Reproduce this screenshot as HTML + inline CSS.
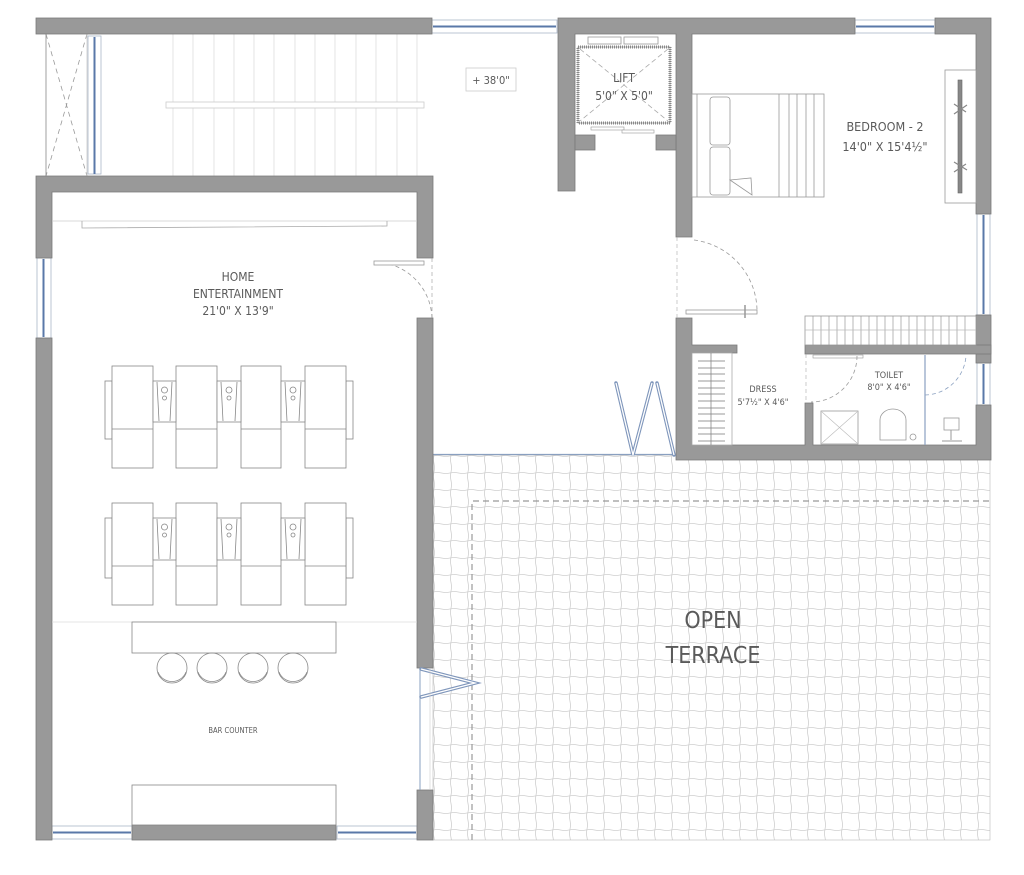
<!DOCTYPE html>
<html><head><meta charset="utf-8"><style>
html,body{margin:0;padding:0;background:#fff;}
svg{display:block;}
text{font-family:"DejaVu Sans Condensed","Liberation Sans",sans-serif;fill:#5a5a5a;}
</style></head><body>
<svg width="1024" height="875" viewBox="0 0 1024 875" xmlns="http://www.w3.org/2000/svg">
<defs>
<pattern id="tile" x="433" y="455" width="17" height="17" patternUnits="userSpaceOnUse">
<path d="M0 1 Q4.25 0 8.5 1 T17 1" fill="none" stroke="#cfcfcf" stroke-width="0.8"/>
<path d="M1 0 Q0 4.25 1 8.5 T1 17" fill="none" stroke="#cfcfcf" stroke-width="0.8"/>
</pattern>
</defs>

<!-- terrace -->
<rect x="433" y="455" width="557" height="385" fill="url(#tile)"/>
<rect x="433" y="455" width="557" height="385" fill="none" stroke="#bbb" stroke-width="0.6"/>
<path d="M472 840 V501 H990" fill="none" stroke="#999" stroke-width="1.2" stroke-dasharray="6,4"/>
<line x1="433" y1="454.5" x2="676" y2="454.5" stroke="#8aa0c0" stroke-width="1.2"/>
<text x="713" y="628" font-size="23" text-anchor="middle">OPEN</text>
<text x="713" y="663" font-size="23" text-anchor="middle">TERRACE</text>

<!-- stair area -->
<g stroke="#ccc" stroke-width="0.8">
<line x1="46" y1="34" x2="46" y2="176" stroke="#888"/>
<path d="M46 34 L87 176 M87 34 L46 176" stroke="#999" stroke-dasharray="5,4"/>
<line x1="87" y1="34" x2="87" y2="176"/>
</g>
<g stroke="#ddd" stroke-width="0.8">
<line x1="173" y1="34" x2="173" y2="176"/><line x1="193" y1="34" x2="193" y2="176"/><line x1="214" y1="34" x2="214" y2="176"/><line x1="234" y1="34" x2="234" y2="176"/><line x1="254" y1="34" x2="254" y2="176"/><line x1="274" y1="34" x2="274" y2="176"/><line x1="295" y1="34" x2="295" y2="176"/><line x1="315" y1="34" x2="315" y2="176"/><line x1="335" y1="34" x2="335" y2="176"/><line x1="356" y1="34" x2="356" y2="176"/><line x1="376" y1="34" x2="376" y2="176"/><line x1="397" y1="34" x2="397" y2="176"/><line x1="417" y1="34" x2="417" y2="176"/>
</g>
<rect x="166" y="102" width="258" height="6" fill="#fff" stroke="#ccc" stroke-width="0.8"/>
<rect x="88" y="36" width="13" height="138" fill="#fff" stroke="#aab6c8" stroke-width="0.8"/>
<line x1="94.5" y1="37" x2="94.5" y2="174" stroke="#5a78a8" stroke-width="2"/>
<rect x="466" y="68" width="50" height="23" fill="#fff" stroke="#ccc" stroke-width="0.8"/>
<text x="491" y="84" font-size="11" text-anchor="middle">+ 38'0"</text>

<!-- windows top -->
<rect x="432" y="20" width="125" height="13" fill="#fff" stroke="#aab6c8" stroke-width="0.8"/>
<line x1="433" y1="26.5" x2="556" y2="26.5" stroke="#5a78a8" stroke-width="2"/>
<rect x="855" y="20" width="80" height="13" fill="#fff" stroke="#aab6c8" stroke-width="0.8"/>
<line x1="856" y1="26.5" x2="934" y2="26.5" stroke="#5a78a8" stroke-width="2"/>
<rect x="977" y="214" width="13" height="101" fill="#fff" stroke="#aab6c8" stroke-width="0.8"/>
<line x1="983.5" y1="215" x2="983.5" y2="314" stroke="#5a78a8" stroke-width="2"/>
<rect x="977" y="363" width="13" height="42" fill="#fff" stroke="#aab6c8" stroke-width="0.8"/>
<line x1="983.5" y1="364" x2="983.5" y2="404" stroke="#5a78a8" stroke-width="2"/>
<rect x="37" y="258" width="14" height="80" fill="#fff" stroke="#aab6c8" stroke-width="0.8"/>
<line x1="43.5" y1="259" x2="43.5" y2="337" stroke="#5a78a8" stroke-width="2"/>
<rect x="52" y="826" width="80" height="13" fill="#fff" stroke="#aab6c8" stroke-width="0.8"/>
<line x1="53" y1="832.5" x2="131" y2="832.5" stroke="#5a78a8" stroke-width="2"/>
<rect x="337" y="826" width="80" height="13" fill="#fff" stroke="#aab6c8" stroke-width="0.8"/>
<line x1="338" y1="832.5" x2="416" y2="832.5" stroke="#5a78a8" stroke-width="2"/>

<!-- walls -->
<g fill="#999" stroke="#7a7a7a" stroke-width="0.8">
<rect x="36" y="18" width="396" height="16"/>
<path d="M36 176 H433 V258 H417 V192 H52 V258 H36 Z"/>
<rect x="36" y="338" width="16" height="502"/>
<rect x="417" y="318" width="16" height="350"/>
<rect x="417" y="790" width="16" height="50"/>
<rect x="132" y="825" width="204" height="15"/>
<path d="M558 18 H855 V34 H692 V237 H676 V34 H575 V191 H558 Z"/>
<rect x="575" y="135" width="20" height="15"/>
<rect x="656" y="135" width="20" height="15"/>
<path d="M935 18 H991 V214 H976 V34 H935 Z"/>
<rect x="976" y="315" width="15" height="48"/>
<path d="M676 318 H692 V345 H737 V353 H692 V445 H805 V403 H813 V445 H976 V405 H991 V460 H676 Z"/>
<rect x="805" y="345" width="186" height="9"/>
</g>

<!-- home entertainment interior -->
<line x1="52" y1="221" x2="417" y2="221" stroke="#ccc" stroke-width="0.8"/>
<path d="M82 221 V228 L387 226 V221" fill="none" stroke="#aaa" stroke-width="0.8"/>
<path d="M432 318 A58 58 0 0 0 374 262" fill="none" stroke="#999" stroke-width="0.8" stroke-dasharray="4,3"/>
<rect x="374" y="261" width="50" height="4" fill="#fff" stroke="#999" stroke-width="0.8"/>
<line x1="432" y1="258" x2="432" y2="318" stroke="#999" stroke-width="0.6" stroke-dasharray="4,3"/>
<text x="238" y="281" font-size="12" text-anchor="middle">HOME</text>
<text x="238" y="298" font-size="12" text-anchor="middle">ENTERTAINMENT</text>
<text x="238" y="315" font-size="12" text-anchor="middle">21'0" X 13'9"</text>

<g fill="#fff" stroke="#888" stroke-width="0.8">
<rect x="105" y="381" width="7" height="58"/><rect x="346" y="381" width="7" height="58"/>
<rect x="112" y="366" width="41" height="102"/><rect x="176" y="366" width="41" height="102"/><rect x="241" y="366" width="40" height="102"/><rect x="305" y="366" width="41" height="102"/>
<rect x="153" y="381" width="23" height="41"/><rect x="217" y="381" width="24" height="41"/><rect x="281" y="381" width="24" height="41"/>
<rect x="105" y="518" width="7" height="60"/><rect x="346" y="518" width="7" height="60"/>
<rect x="112" y="503" width="41" height="102"/><rect x="176" y="503" width="41" height="102"/><rect x="241" y="503" width="40" height="102"/><rect x="305" y="503" width="41" height="102"/>
<rect x="153" y="518" width="23" height="42"/><rect x="217" y="518" width="24" height="42"/><rect x="281" y="518" width="24" height="42"/>
</g>
<g fill="none" stroke="#888" stroke-width="0.8">
<line x1="112" y1="429" x2="153" y2="429"/><line x1="176" y1="429" x2="217" y2="429"/><line x1="241" y1="429" x2="281" y2="429"/><line x1="305" y1="429" x2="346" y2="429"/>
<line x1="112" y1="566" x2="153" y2="566"/><line x1="176" y1="566" x2="217" y2="566"/><line x1="241" y1="566" x2="281" y2="566"/><line x1="305" y1="566" x2="346" y2="566"/>
<circle cx="164.5" cy="390" r="3"/><circle cx="164.5" cy="398" r="2"/><circle cx="229" cy="390" r="3"/><circle cx="229" cy="398" r="2"/><circle cx="293" cy="390" r="3"/><circle cx="293" cy="398" r="2"/>
<circle cx="164.5" cy="527" r="3"/><circle cx="164.5" cy="535" r="2"/><circle cx="229" cy="527" r="3"/><circle cx="229" cy="535" r="2"/><circle cx="293" cy="527" r="3"/><circle cx="293" cy="535" r="2"/>
<path d="M157 382 L159 421 M172 382 L170 421 M221 382 L223 421 M237 382 L235 421 M285 382 L287 421 M301 382 L299 421"/>
<path d="M157 519 L159 559 M172 519 L170 559 M221 519 L223 559 M237 519 L235 559 M285 519 L287 559 M301 519 L299 559"/>
</g>
<line x1="52" y1="622" x2="417" y2="622" stroke="#ddd" stroke-width="0.8"/>
<rect x="132" y="622" width="204" height="31" fill="#fff" stroke="#888" stroke-width="0.8"/>
<g fill="none" stroke="#888" stroke-width="0.8">
<circle cx="172" cy="668" r="15"/><circle cx="212" cy="668" r="15"/><circle cx="253" cy="668" r="15"/><circle cx="293" cy="668" r="15"/>
<path d="M158 672 A15 15 0 0 0 186 672 M198 672 A15 15 0 0 0 226 672 M239 672 A15 15 0 0 0 267 672 M279 672 A15 15 0 0 0 307 672"/>
</g>
<text x="233" y="733" font-size="7.5" text-anchor="middle">BAR COUNTER</text>
<rect x="132" y="785" width="204" height="40" fill="#fff" stroke="#888" stroke-width="0.8"/>

<!-- folding doors -->
<g fill="none" stroke="#7f96bb" stroke-width="3.5" stroke-linecap="round">
<path d="M421 669 L475 683 L421 697"/>
<path d="M616 383 L633 455 L652 383 M657 383 L674 455"/>
</g>
<g fill="none" stroke="#fff" stroke-width="1.3">
<path d="M421 669 L475 683 L421 697"/>
<path d="M616 383 L633 455 L652 383 M657 383 L674 455"/>
</g>
<line x1="420" y1="668" x2="420" y2="790" stroke="#8aa0c0" stroke-width="1"/>
<line x1="430" y1="668" x2="430" y2="790" stroke="#ccc" stroke-width="0.6"/>

<!-- lift -->
<rect x="578" y="47" width="92" height="76" fill="#fff" stroke="#888" stroke-width="3" stroke-dasharray="1,1"/>
<rect x="578" y="47" width="92" height="76" fill="none" stroke="#888" stroke-width="0.6"/>
<path d="M580 49 L668 121 M668 49 L580 121" stroke="#aaa" stroke-width="0.8" stroke-dasharray="5,3"/>
<rect x="588" y="37" width="33" height="7" fill="#fff" stroke="#999" stroke-width="0.8"/>
<rect x="624" y="37" width="34" height="7" fill="#fff" stroke="#999" stroke-width="0.8"/>
<rect x="591" y="127" width="33" height="3" fill="#fff" stroke="#999" stroke-width="0.6"/>
<rect x="622" y="130" width="32" height="3" fill="#fff" stroke="#999" stroke-width="0.6"/>
<text x="624" y="82" font-size="12" text-anchor="middle">LIFT</text>
<text x="624" y="100" font-size="12" text-anchor="middle">5'0" X 5'0"</text>

<!-- bedroom -->
<g fill="#fff" stroke="#999" stroke-width="0.8">
<rect x="692" y="94" width="132" height="103"/>
<rect x="710" y="97" width="20" height="48" rx="3"/><rect x="710" y="147" width="20" height="48" rx="3"/>
<path d="M779 94 V197 M789 94 V197 M797 94 V197 M806 94 V197 M814 94 V197"/>
<path d="M730 180 L752 195 L751 178 Z"/>
<line x1="697" y1="94" x2="697" y2="197"/>
</g>
<text x="885" y="131" font-size="12.5" text-anchor="middle">BEDROOM - 2</text>
<text x="885" y="151" font-size="12.5" text-anchor="middle">14'0" X 15'4½"</text>
<rect x="945" y="70" width="31" height="133" fill="#fff" stroke="#999" stroke-width="0.8"/>
<rect x="958" y="80" width="4" height="113" fill="#888" stroke="#666" stroke-width="0.6"/>
<path d="M954 104 L966 112 M954 114 L967 105 M954 172 L966 164 M954 162 L967 170" stroke="#888" stroke-width="1.2"/>
<path d="M694 240 A72 72 0 0 1 757 313" fill="none" stroke="#999" stroke-width="0.8" stroke-dasharray="4,3"/>
<line x1="677" y1="237" x2="677" y2="318" stroke="#aaa" stroke-width="0.6" stroke-dasharray="4,3"/>
<rect x="686" y="310" width="71" height="4" fill="#fff" stroke="#999" stroke-width="0.8"/>
<line x1="745" y1="305" x2="745" y2="318" stroke="#999" stroke-width="1.5"/>
<rect x="805" y="316" width="171" height="29" fill="#fff" stroke="#999" stroke-width="0.8"/>
<g stroke="#999" stroke-width="0.7">
<path d="M813 316V345M821 316V345M829 316V345M837 316V345M845 316V345M853 316V345M861 316V345M869 316V345M877 316V345M885 316V345M893 316V345M901 316V345M909 316V345M917 316V345M925 316V345M933 316V345M941 316V345M949 316V345M957 316V345M965 316V345"/>
<line x1="805" y1="330" x2="976" y2="330" stroke="#bbb"/>
</g>
<!-- dress -->
<rect x="692" y="353" width="40" height="92" fill="#fff" stroke="#aaa" stroke-width="0.8"/>
<g stroke="#999" stroke-width="1">
<path d="M698 361H725M698 368H725M698 374H725M698 381H725M698 388H725M698 394H725M698 401H725M698 408H725M698 414H725M698 421H725M698 428H725M698 434H725M698 441H725"/>
</g>
<line x1="711" y1="353" x2="711" y2="445" stroke="#888" stroke-width="0.8"/>
<text x="763" y="392" font-size="9" text-anchor="middle">DRESS</text>
<text x="763" y="405" font-size="9" text-anchor="middle">5'7½" X 4'6"</text>
<!-- toilet -->
<rect x="813" y="355" width="50" height="3" fill="#fff" stroke="#999" stroke-width="0.6"/>
<path d="M857 356 A46 46 0 0 1 811 402" fill="none" stroke="#999" stroke-width="0.8" stroke-dasharray="4,3"/>
<line x1="806" y1="354" x2="806" y2="402" stroke="#aaa" stroke-width="0.6" stroke-dasharray="4,3"/>
<text x="889" y="378" font-size="9" text-anchor="middle">TOILET</text>
<text x="889" y="390" font-size="9" text-anchor="middle">8'0" X 4'6"</text>
<rect x="821" y="411" width="37" height="33" fill="#fff" stroke="#999" stroke-width="0.8"/>
<path d="M822 412 L857 443 M857 412 L822 443" stroke="#bbb" stroke-width="0.6"/>
<path d="M880 440 V420 A13 11 0 0 1 906 420 V440 Z" fill="#fff" stroke="#999" stroke-width="0.8"/>
<circle cx="913" cy="437" r="3" fill="none" stroke="#999" stroke-width="0.8"/>
<line x1="925" y1="355" x2="925" y2="445" stroke="#8aa0c0" stroke-width="1.2"/>
<path d="M925 395 A42 42 0 0 0 966 356" fill="none" stroke="#8aa0c0" stroke-width="0.8" stroke-dasharray="4,3"/>
<rect x="944" y="418" width="15" height="12" fill="#fff" stroke="#999" stroke-width="0.8"/>
<path d="M951 430 V440 M942 441 H962" stroke="#999" stroke-width="1"/>
</svg>
</body></html>
